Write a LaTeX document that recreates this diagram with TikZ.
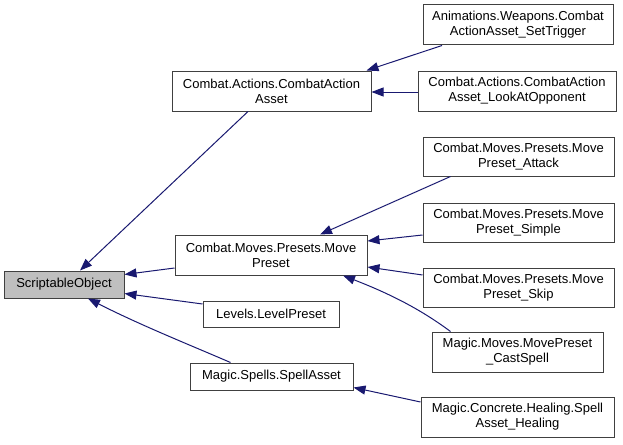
\documentclass[tikz,border=0pt]{standalone}
\usepackage{fontspec}
\setmainfont{Liberation Sans}
\usetikzlibrary{arrows.meta,calc}
\definecolor{edgecol}{HTML}{191970}
\definecolor{boxline}{HTML}{404040}
\definecolor{basefill}{HTML}{BFBFBF}
\tikzset{
  box/.style={draw=boxline, line width=1pt, fill=white, inner sep=0pt, align=center,
    font=\fontsize{13}{15}\selectfont},
  basebox/.style={box, fill=basefill},
  edge/.style={draw=edgecol, line width=1pt, -{Triangle[length=12pt,width=9pt]}}
}
\begin{document}
\begin{tikzpicture}[x=1pt,y=-1pt]
\useasboundingbox (0,0) rectangle (623,444);
\node[basebox, minimum width=120, minimum height=27] (so) at (64,284.5) {ScriptableObject};
\node[box, minimum width=199, minimum height=40] (caa) at (271.5,91) {Combat.Actions.CombatAction\\Asset};
\node[box, minimum width=190, minimum height=40] (trig) at (518,25) {Animations.Weapons.Combat\\ActionAsset\_SetTrigger};
\node[box, minimum width=198, minimum height=40] (look) at (517,91) {Combat.Actions.CombatAction\\Asset\_LookAtOpponent};
\node[box, minimum width=192, minimum height=40] (mp) at (271,255) {Combat.Moves.Presets.Move\\Preset};
\node[box, minimum width=136, minimum height=26] (lvl) at (271,314) {Levels.LevelPreset};
\node[box, minimum width=163, minimum height=27] (spell) at (271.5,376.5) {Magic.Spells.SpellAsset};
\node[box, minimum width=191, minimum height=39] (att) at (518.5,156.5) {Combat.Moves.Presets.Move\\Preset\_Attack};
\node[box, minimum width=191, minimum height=39] (simp) at (518.5,222.5) {Combat.Moves.Presets.Move\\Preset\_Simple};
\node[box, minimum width=191, minimum height=39] (skip) at (518.5,287.5) {Combat.Moves.Presets.Move\\Preset\_Skip};
\node[box, minimum width=171, minimum height=40] (cast) at (517.5,352) {Magic.Moves.MovePreset\\\_CastSpell};
\node[box, minimum width=193, minimum height=40] (heal) at (517.5,417) {Magic.Concrete.Healing.Spell\\Asset\_Healing};

\draw[edge] ($(caa.south)+(-23.5,0)$) -- ($(so.north)+(16,0)$);
\draw[edge] ($(mp.west)+(0,13)$) -- ($(so.east)+(0,-10)$);
\draw[edge] ($(lvl.west)+(0,-10)$) -- ($(so.east)+(0,9)$);
\draw[edge] ($(spell.north)+(-41,0)$) .. controls (190,345) and (140,325) .. ($(so.south)+(24,0)$);
\draw[edge] ($(trig.south)+(-76,0)$) -- ($(caa.north east)+(-5,0)$);
\draw[edge] ($(look.west)+(0,1)$) -- ($(caa.east)+(0,1)$);
\draw[edge] ($(att.south)+(-68,0)$) -- ($(mp.north)+(49,0)$);
\draw[edge] ($(simp.west)+(0,12.5)$) -- ($(mp.east)+(0,-14)$);
\draw[edge] ($(skip.west)+(0,-12.5)$) -- ($(mp.east)+(0,12)$);
\draw[edge] ($(cast.north)+(-67,0)$) .. controls (415,305) and (380,290) .. ($(mp.south)+(72,0)$);
\draw[edge] ($(heal.west)+(0,-15)$) -- ($(spell.east)+(0,11)$);
\end{tikzpicture}
\end{document}
